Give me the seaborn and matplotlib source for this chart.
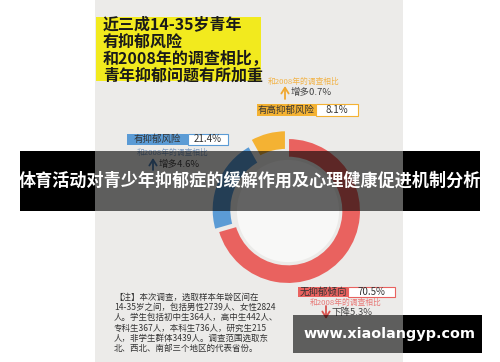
import matplotlib
matplotlib.use("Agg")
import matplotlib.pyplot as plt
import seaborn as sns
from matplotlib.patches import Rectangle, Circle

# ---- data ----
categories = ["无抑郁倾向", "有抑郁风险", "有高抑郁风险"]
values = [70.5, 21.4, 8.1]
changes = ["下降5.3%", "增多4.6%", "增多0.7%"]
compare_label = "和2008年的调查相比"
title_lines = ["近三成14-35岁青年", "有抑郁风险", "和2008年的调查相比，", "青年抑郁问题有所加重"]
center_lines = ["调查发现，", "14-35岁", "青年群体中"]
note_lines = [
    "【注】本次调查，选取样本年龄区间在",
    "14-35岁之间，包括男性2739人、女性2824",
    "人。学生包括初中生364人，高中生442人、",
    "专科生367人，本科生736人，研究生215",
    "人，非学生群体3439人。调查范围选取东",
    "北、西北、南部三个地区的代表省份。",
]
banner = "体育活动对青少年抑郁症的缓解作用及心理健康促进机制分析"
watermark = "www.xiaolangyp.com"

sns.set_theme(style="white")
plt.rcParams['font.family'] = ['Noto Sans CJK SC', 'DejaVu Sans']

colors = ["#E9625F", "#5B9BD5", "#F4B233"]
panel_c = "#ECEBE9"

W, H = 500, 362
fig = plt.figure(figsize=(5, 3.62), dpi=100)
fig.patch.set_facecolor("white")

bg = fig.add_axes([0, 0, 1, 1], zorder=0)
bg.set_xlim(0, W); bg.set_ylim(H, 0); bg.axis("off")
bg.add_patch(Rectangle((95, 0), 308, H, color=panel_c, lw=0))

# title highlight
bg.add_patch(Rectangle((96, 17), 165, 64, color="#F2EA1E", lw=0))
for i, t in enumerate(title_lines):
    bg.text(103, 25 + i * 16.8, t, fontsize=11.5, fontweight="bold",
            color="#1a1a1a", va="center", ha="left")

# label boxes
def label_box(x0, x1, x2, y0, y1, col, name, val):
    bg.add_patch(Rectangle((x0, y0), x1 - x0, y1 - y0, color=col, lw=0))
    bg.add_patch(Rectangle((x1, y0), x2 - x1, y1 - y0, facecolor="white",
                           edgecolor=col, lw=0.8))
    bg.text((x0 + x1) / 2, (y0 + y1) / 2, name, fontsize=6.8, color="#333333",
            ha="center", va="center")
    bg.text((x1 + x2) / 2, (y0 + y1) / 2, f"{val}%", fontsize=7, color="#333333",
            ha="center", va="center")

def arrow(x, ya, yb, col):
    bg.annotate("", xy=(x, yb), xytext=(x, ya),
                arrowprops=dict(arrowstyle="->,head_width=0.22,head_length=0.35",
                                color=col, lw=1.3, shrinkA=0, shrinkB=0))

# high risk (top right)
label_box(257, 316, 358, 104, 116, colors[2], categories[2], values[2])
bg.text(268, 82, compare_label, fontsize=5.6, color="#F2B347", ha="left", va="center")
arrow(285, 99, 86, "#F0A830")
bg.text(291, 92, changes[2], fontsize=6.8, color="#444444", ha="left", va="center")

# risk (left)
label_box(127, 188, 228, 134, 145, colors[1], categories[1], values[1])
bg.text(137, 153, compare_label, fontsize=5.6, color="#7F9CC0", ha="left", va="center")
arrow(153, 170, 158, "#4A7CB0")
bg.text(159, 164, changes[1], fontsize=6.8, color="#444444", ha="left", va="center")

# no tendency (bottom right)
label_box(298, 348, 395, 287, 297, colors[0], categories[0], values[0])
bg.text(310, 303, compare_label, fontsize=5.6, color="#E87A78", ha="left", va="center")
arrow(326, 306, 319, "#D9534F")
bg.text(332, 312, changes[0], fontsize=6.8, color="#444444", ha="left", va="center")

# note
for i, t in enumerate(note_lines):
    bg.text(114, 297 + i * 10.3, t, fontsize=6.1, color="#333333",
            ha="left", va="center")

# ---- donut ----
cx, cy, R, lim = 288, 211, 73, 1.35
half = lim * R
pax = fig.add_axes([(cx - half) / W, (H - cy - half) / H, 2 * half / W, 2 * half / H], zorder=1)
pax.patch.set_visible(False)
pax.pie(values, colors=colors, startangle=90, counterclock=False,
        explode=[0, 0.05, 0.11],
        wedgeprops=dict(width=0.27, edgecolor=panel_c, linewidth=1.5))
pax.add_patch(Circle((0, 0), 0.70, color="#F8F8F7", lw=0))
pax.set_xlim(-lim, lim); pax.set_ylim(-lim, lim)
pax.axis("off")

for i, t in enumerate(center_lines):
    bg.text(290, 198 + i * 14.5, t, fontsize=8.9, color="#333333",
            ha="center", va="center", zorder=5)

# ---- overlay bands ----
ov = fig.add_axes([0, 0, 1, 1], zorder=3)
ov.patch.set_visible(False)
ov.set_xlim(0, W); ov.set_ylim(H, 0); ov.axis("off")

# banner band
ov.add_patch(Rectangle((20, 151), 75, 60, color="black", lw=0))
ov.add_patch(Rectangle((95, 151), 308, 60, color="black", alpha=0.6, lw=0))
ov.add_patch(Rectangle((403, 151), 77, 60, color="black", lw=0))
ov.text(250, 181, banner, fontsize=12.3, fontweight="bold", color="white",
        ha="center", va="center")

# watermark band
ov.add_patch(Rectangle((293, 315), 110, 38, color="black", alpha=0.6, lw=0))
ov.add_patch(Rectangle((403, 315), 79, 38, color="black", lw=0))
ov.text(390, 334, watermark, fontsize=10.4, fontweight="bold", color="white",
        ha="center", va="center", family="DejaVu Sans")

fig.savefig("out.png", dpi=100)
